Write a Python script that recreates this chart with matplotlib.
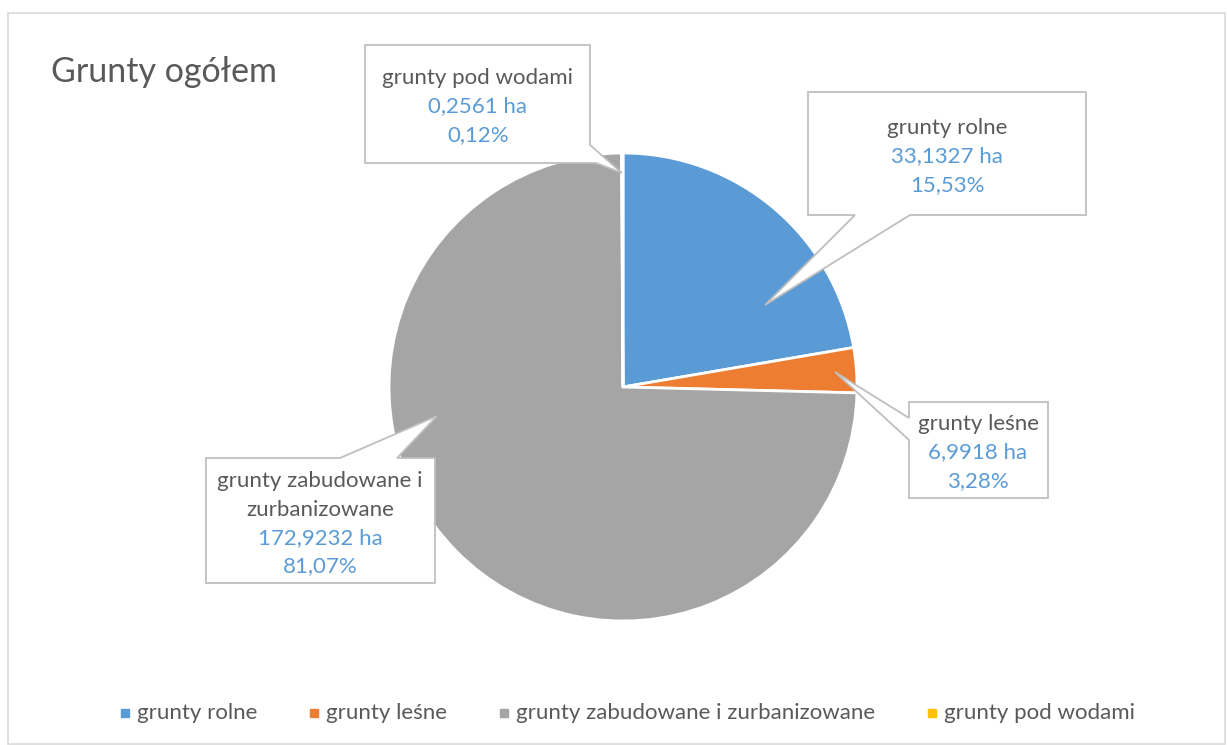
import matplotlib.pyplot as plt
from matplotlib.patches import Polygon, Rectangle

plt.rcParams['font.family'] = ['Lato', 'DejaVu Sans']

categories = ['grunty rolne', 'grunty leśne',
              'grunty zabudowane i zurbanizowane', 'grunty pod wodami']
area_ha = [33.1327, 6.9918, 172.9232, 0.2561]
percent = [15.53, 3.28, 81.07, 0.12]
# wedge sizes as they are drawn in the picture (%)
slice_share = [22.3, 3.1, 74.5, 0.1]
colors = ['#5B9BD5', '#ED7D31', '#A5A5A5', '#FFC000']

TXT = '#595959'
EDGE = '#BFBFBF'


def fmt(v, nd):
    return f'{v:.{nd}f}'.replace('.', ',')


fig = plt.figure(figsize=(12.27, 7.45), dpi=100)
ax = fig.add_axes([0, 0, 1, 1])

# y axis is inverted below, so counterclock=True + startangle=-90
# gives a clockwise pie that starts at 12 o'clock
ax.pie(slice_share, colors=colors, startangle=-90, counterclock=True,
       center=(623, 387), radius=234,
       wedgeprops=dict(edgecolor='white', linewidth=2))
ax.set_xlim(0, 1227)
ax.set_ylim(745, 0)
ax.set_aspect('equal')
ax.axis('off')

# chart border
ax.add_patch(Rectangle((8, 13), 1217, 731, fill=False, edgecolor='#D9D9D9',
                       lw=1.2, zorder=0))

ax.text(51, 72, 'Grunty ogółem', fontsize=24.5, color=TXT, va='center')

# callout shapes (box with pointer)
callouts = [
    [(808, 92), (1086, 92), (1086, 215), (910, 215), (765, 305),
     (855, 215), (808, 215)],
    [(909, 402), (1048, 402), (1048, 498), (909, 498), (909, 440),
     (835, 372), (909, 418)],
    [(206, 458), (340, 458), (437, 416), (397, 458), (435, 458),
     (435, 583), (206, 583)],
    [(365, 45), (590, 45), (590, 145), (622, 173), (596, 163),
     (365, 163)],
]
for pts in callouts:
    ax.add_patch(Polygon(pts, closed=True, facecolor='white',
                         edgecolor=EDGE, lw=1.3, zorder=5))

# label texts: (x center, y of first line, name lines)
label_pos = [
    (947, 128, ['grunty rolne']),
    (978, 424, ['grunty leśne']),
    (320, 481, ['grunty zabudowane i', 'zurbanizowane']),
    (478, 78, ['grunty pod wodami']),
]
step = 28.5
for i, (x, y, names) in enumerate(label_pos):
    lines = [(n, TXT) for n in names]
    lines += [(fmt(area_ha[i], 4) + ' ha', colors[0]),
              (fmt(percent[i], 2) + '%', colors[0])]
    for k, (s, c) in enumerate(lines):
        ax.text(x, y + k * step, s, fontsize=16, color=c,
                ha='center', va='center', zorder=6)

# legend
leg_x = [125, 314, 504, 932]
for i, name in enumerate(categories):
    ax.add_patch(Rectangle((leg_x[i] - 4, 709), 8, 8, color=colors[i]))
    ax.text(leg_x[i] + 12, 713, name, fontsize=16, color=TXT,
            va='center', ha='left')

plt.savefig('out.png', dpi=100)
